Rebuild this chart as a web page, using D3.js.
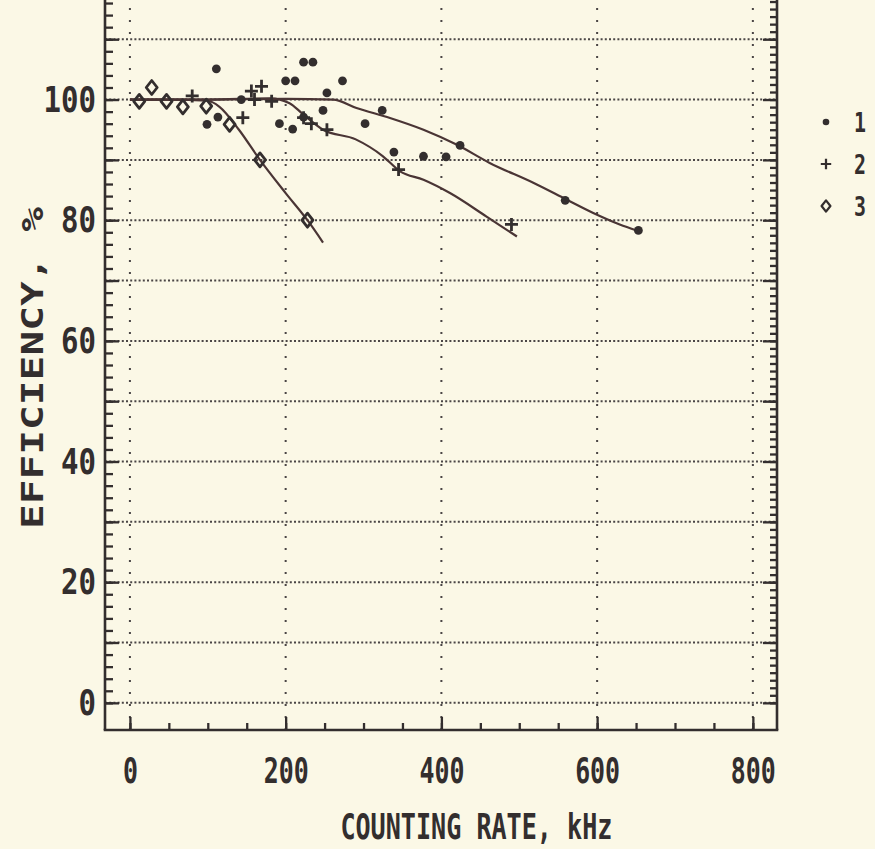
<!DOCTYPE html>
<html>
<head>
<meta charset="utf-8">
<script src="https://cdn.jsdelivr.net/npm/d3@7/dist/d3.min.js"></script>
<style>
  html, body { margin: 0; padding: 0; background: #fbf8e6; }
  svg { display: block; }
</style>
</head>
<body>
<script>
// ---------- data ----------
const xTickLabels = [0, 200, 400, 600, 800];
const yTickLabels = [0, 20, 40, 60, 80, 100];

// series 1 (filled dots)
const s1x = [111, 99, 113, 143, 192, 209, 200, 212, 223, 235, 253, 273, 248, 223, 302, 324, 339, 377, 406, 424, 559, 653];
const s1y = [105.1, 95.9, 97.1, 100, 96, 95.1, 103.1, 103.1, 106.2, 106.2, 101.1, 103.1, 98.2, 97.1, 96, 98.2, 91.3, 90.6, 90.5, 92.4, 83.3, 78.3];
// series 2 (plus)
const s2x = [80, 145, 156, 169, 182, 160, 223, 233, 253, 345, 490];
const s2y = [100.6, 97, 101.4, 102.2, 99.7, 100, 97, 96, 95, 88.4, 79.3];
// series 3 (open diamonds)
const s3x = [12, 28, 47, 68, 98, 128, 167, 228];
const s3y = [99.7, 102, 99.7, 98.8, 98.9, 95.9, 90, 80];

// fitted curves
const c1x = [0, 100, 200, 261, 291, 334, 377, 420, 462, 518, 561, 595, 629, 651];
const c1y = [100, 100, 100.1, 100, 98.6, 96.95, 95, 92.5, 89.5, 86.2, 83.4, 81.2, 79.3, 78.3];
const c2x = [0, 100, 180, 205, 222, 248, 290, 325, 347, 377, 411, 458, 497];
const c2y = [100, 100, 100.2, 99.4, 97.6, 95, 93.4, 90.6, 88.1, 86.7, 84.5, 80.6, 77.3];
const c3x = [0, 50, 100, 115, 140, 167, 200, 228, 248];
const c3y = [100, 100, 99.8, 98.8, 95, 90, 84.5, 80, 76.3];

const legendLabels = ["1", "2", "3"];

// ---------- drawing ----------
const W = 875, H = 849;
const ink = "#332e2e";
const curveInk = "#4a3535";
const FONT = "'DejaVu Sans Mono', monospace";

const svg = d3.select("body").append("svg").attr("width", W).attr("height", H);
svg.append("rect").attr("width", W).attr("height", H).attr("fill", "#fbf8e6");

const x = d3.scaleLinear().domain([-32, 831]).range([105, 777]);
const y = d3.scaleLinear().domain([-4.5, 117]).range([730, -3]);

const [xmin, xmax] = x.domain();
const [ymin, ymax] = y.domain();

// gridlines
const g = svg.append("g");
g.selectAll("line.hg").data(d3.range(0, 111, 10)).join("line")
  .attr("x1", x(xmin)).attr("x2", x(xmax))
  .attr("y1", d => y(d)).attr("y2", d => y(d))
  .attr("stroke", "#4a4545").attr("stroke-width", 2)
  .attr("stroke-dasharray", "2,2.2");
g.selectAll("line.vg").data(xTickLabels).join("line")
  .attr("x1", d => x(d)).attr("x2", d => x(d))
  .attr("y1", y(ymin)).attr("y2", y(ymax))
  .attr("stroke", "#4a4545").attr("stroke-width", 2)
  .attr("stroke-dasharray", "2,10");

// axes
function styleAxis(sel) {
  sel.select(".domain").remove();
  sel.selectAll(".tick line").attr("stroke", ink).attr("stroke-width", 2.3);
}
const bottom = svg.append("g").attr("transform", `translate(0,${y(ymin)})`);
bottom.append("g").call(d3.axisBottom(x).tickValues(d3.range(0, 801, 50)).tickSize(-7).tickFormat(""))
  .call(styleAxis);
bottom.append("g").call(d3.axisBottom(x).tickValues(xTickLabels).tickSize(-13).tickPadding(27).tickFormat(d3.format("d")))
  .call(styleAxis).attr("class", "xl");

const left = svg.append("g").attr("transform", `translate(${x(xmin)},0)`);
left.append("g").call(d3.axisLeft(y).tickValues(d3.range(0, 117, 2)).tickSize(-8).tickFormat(""))
  .call(styleAxis);
left.append("g").call(d3.axisLeft(y).tickValues(d3.range(0, 111, 10)).tickSize(-14).tickFormat(""))
  .call(styleAxis);
left.append("g").call(d3.axisLeft(y).tickValues(yTickLabels).tickSize(0).tickPadding(9).tickFormat(d3.format("d")))
  .call(styleAxis).attr("class", "yl");

const right = svg.append("g").attr("transform", `translate(${x(xmax)},0)`);
right.append("g").call(d3.axisRight(y).tickValues(d3.range(0, 117, 1.25)).tickSize(-7).tickFormat(""))
  .call(styleAxis);
right.append("g").call(d3.axisRight(y).tickValues(d3.range(0, 111, 10)).tickSize(-14).tickFormat(""))
  .call(styleAxis);

// frame lines
svg.append("line").attr("x1", x(xmin)).attr("x2", x(xmin)).attr("y1", y(ymin)).attr("y2", y(ymax))
  .attr("stroke", ink).attr("stroke-width", 2.6);
svg.append("line").attr("x1", x(xmax)).attr("x2", x(xmax)).attr("y1", y(ymin)).attr("y2", y(ymax))
  .attr("stroke", ink).attr("stroke-width", 2.6);
svg.append("line").attr("x1", x(xmin) - 1.3).attr("x2", x(xmax) + 1.3).attr("y1", y(ymin)).attr("y2", y(ymin))
  .attr("stroke", ink).attr("stroke-width", 2.6);

// tick label styling
svg.selectAll(".xl .tick text, .yl .tick text")
  .attr("fill", ink).attr("font-family", FONT).attr("font-weight", "bold")
  .attr("font-size", 36);
svg.selectAll(".xl .tick text").each(function() {
  const t = d3.select(this);
  t.attr("textLength", t.text().length * 15).attr("lengthAdjust", "spacingAndGlyphs");
});
svg.selectAll(".yl .tick text").each(function() {
  const t = d3.select(this);
  t.attr("textLength", t.text().length * 17.5).attr("lengthAdjust", "spacingAndGlyphs");
});

// curves
const line = d3.line().x(d => x(d[0])).y(d => y(d[1])).curve(d3.curveMonotoneX);
[[c1x, c1y], [c2x, c2y], [c3x, c3y]].forEach(([cx, cy]) => {
  svg.append("path").datum(cx.map((v, i) => [v, cy[i]]))
    .attr("d", line).attr("fill", "none").attr("stroke", curveInk).attr("stroke-width", 2.2);
});

// markers
function dot(sel) { sel.append("circle").attr("r", 4.4).attr("fill", ink); }
function plus(sel) {
  sel.append("path").attr("d", "M-6.5,0H6.5M0,-6.5V6.5").attr("stroke", ink).attr("stroke-width", 2.8).attr("fill", "none");
}
function diamond(sel) {
  sel.append("path").attr("d", "M0,-7L5.5,0L0,7L-5.5,0Z").attr("stroke", ink).attr("stroke-width", 2.8)
    .attr("fill", "none").attr("stroke-linejoin", "round");
}
function drawSeries(xs, ys, shape) {
  svg.append("g").selectAll("g").data(xs.map((v, i) => [v, ys[i]])).join("g")
    .attr("transform", d => `translate(${x(d[0])},${y(d[1])})`)
    .each(function() { shape(d3.select(this)); });
}
drawSeries(s1x, s1y, dot);
drawSeries(s2x, s2y, plus);
drawSeries(s3x, s3y, diamond);

// legend
const legend = svg.append("g").attr("transform", "translate(826,122)");
const shapes = [dot, plus, diamond];
legendLabels.forEach((lab, i) => {
  const row = legend.append("g").attr("transform", `translate(0,${i * 42})`);
  const m = row.append("g").attr("transform", i === 0 ? "scale(0.75)" : "scale(0.8)");
  shapes[i](m);
  row.append("text").attr("x", 28).attr("y", 0).attr("dy", "0.36em")
    .attr("fill", ink).attr("font-family", FONT).attr("font-weight", "bold")
    .attr("font-size", 27).attr("textLength", 12).attr("lengthAdjust", "spacingAndGlyphs")
    .text(lab);
});

// axis titles
svg.append("text").attr("x", (x(0) + x(800)) / 2 + 35).attr("y", 839)
  .attr("text-anchor", "middle").attr("fill", ink)
  .attr("font-family", FONT).attr("font-weight", "bold").attr("font-size", 35)
  .attr("textLength", 272).attr("lengthAdjust", "spacingAndGlyphs")
  .text("COUNTING RATE, kHz");

svg.append("text").attr("transform", "translate(43,368) rotate(-90)")
  .attr("text-anchor", "middle").attr("fill", ink)
  .attr("font-family", FONT).attr("font-weight", "bold").attr("font-size", 30)
  .attr("textLength", 322).attr("lengthAdjust", "spacingAndGlyphs")
  .text("EFFICIENCY, %");
</script>
</body>
</html>
